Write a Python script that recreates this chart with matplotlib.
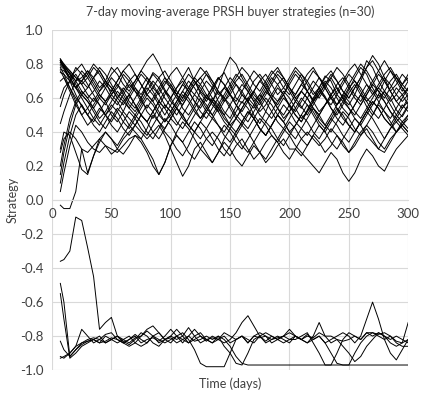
#!/usr/bin/env python3

import matplotlib
matplotlib.use('Agg')
import matplotlib.pyplot as plt

plt.rcParams['font.family'] = ['Lato', 'DejaVu Sans']

# day 7 is the first day with a full 7-day window, then every 5 days
days = [7] + list(range(10, 301, 5))

# buyers that settled on positive strategies
upper = [
    [0.83, 0.80, 0.76, 0.72, 0.70, 0.66, 0.72, 0.76, 0.70, 0.62,
     0.66, 0.74, 0.70, 0.64, 0.60, 0.68, 0.75, 0.72, 0.65, 0.60,
     0.66, 0.72, 0.78, 0.70, 0.63, 0.58, 0.64, 0.71, 0.75, 0.68,
     0.60, 0.57, 0.63, 0.70, 0.74, 0.69, 0.62, 0.58, 0.62, 0.70,
     0.76, 0.72, 0.64, 0.59, 0.66, 0.73, 0.70, 0.62, 0.58, 0.65,
     0.72, 0.78, 0.74, 0.66, 0.60, 0.64, 0.70, 0.74, 0.68, 0.72],
    [0.82, 0.78, 0.70, 0.62, 0.55, 0.50, 0.56, 0.62, 0.58, 0.50,
     0.46, 0.52, 0.60, 0.66, 0.60, 0.52, 0.48, 0.55, 0.62, 0.68,
     0.62, 0.54, 0.50, 0.56, 0.64, 0.70, 0.66, 0.58, 0.52, 0.48,
     0.55, 0.62, 0.58, 0.50, 0.45, 0.52, 0.60, 0.66, 0.62, 0.55,
     0.50, 0.46, 0.53, 0.60, 0.66, 0.61, 0.54, 0.50, 0.56, 0.63,
     0.68, 0.62, 0.55, 0.50, 0.57, 0.64, 0.60, 0.53, 0.49, 0.55],
    [0.81, 0.79, 0.74, 0.70, 0.72, 0.76, 0.70, 0.64, 0.68, 0.74,
     0.78, 0.72, 0.66, 0.70, 0.76, 0.82, 0.86, 0.80, 0.72, 0.66,
     0.62, 0.68, 0.74, 0.70, 0.64, 0.60, 0.66, 0.72, 0.68, 0.62,
     0.58, 0.64, 0.70, 0.76, 0.72, 0.66, 0.60, 0.56, 0.62, 0.68,
     0.74, 0.70, 0.64, 0.58, 0.62, 0.68, 0.74, 0.70, 0.64, 0.60,
     0.66, 0.72, 0.82, 0.78, 0.70, 0.64, 0.58, 0.62, 0.68, 0.64],
    [0.80, 0.78, 0.75, 0.70, 0.64, 0.60, 0.64, 0.70, 0.66, 0.60,
     0.56, 0.62, 0.68, 0.64, 0.58, 0.54, 0.60, 0.66, 0.72, 0.68,
     0.62, 0.58, 0.64, 0.70, 0.66, 0.60, 0.58, 0.66, 0.76, 0.84,
     0.80, 0.72, 0.66, 0.60, 0.56, 0.62, 0.68, 0.74, 0.70, 0.64,
     0.58, 0.54, 0.60, 0.66, 0.72, 0.68, 0.62, 0.56, 0.60, 0.66,
     0.70, 0.66, 0.60, 0.56, 0.62, 0.70, 0.76, 0.72, 0.66, 0.62],
    [0.79, 0.77, 0.72, 0.66, 0.62, 0.58, 0.54, 0.60, 0.66, 0.72,
     0.68, 0.62, 0.56, 0.52, 0.58, 0.64, 0.70, 0.66, 0.60, 0.55,
     0.50, 0.56, 0.62, 0.68, 0.72, 0.66, 0.60, 0.54, 0.50, 0.56,
     0.62, 0.68, 0.64, 0.58, 0.52, 0.56, 0.62, 0.68, 0.72, 0.66,
     0.60, 0.55, 0.50, 0.56, 0.62, 0.68, 0.72, 0.66, 0.60, 0.56,
     0.62, 0.70, 0.78, 0.85, 0.80, 0.72, 0.64, 0.58, 0.62, 0.66],
    [0.78, 0.74, 0.66, 0.58, 0.50, 0.44, 0.48, 0.54, 0.50, 0.44,
     0.40, 0.46, 0.52, 0.48, 0.42, 0.38, 0.44, 0.50, 0.56, 0.52,
     0.46, 0.42, 0.48, 0.54, 0.60, 0.56, 0.50, 0.44, 0.40, 0.46,
     0.52, 0.58, 0.54, 0.48, 0.42, 0.38, 0.44, 0.50, 0.56, 0.52,
     0.46, 0.42, 0.38, 0.44, 0.50, 0.56, 0.60, 0.54, 0.48, 0.44,
     0.40, 0.46, 0.52, 0.58, 0.54, 0.48, 0.44, 0.50, 0.56, 0.52],
    [0.77, 0.76, 0.72, 0.76, 0.80, 0.74, 0.68, 0.62, 0.58, 0.64,
     0.70, 0.76, 0.72, 0.66, 0.62, 0.68, 0.74, 0.70, 0.64, 0.58,
     0.54, 0.60, 0.66, 0.72, 0.68, 0.62, 0.56, 0.52, 0.58, 0.64,
     0.70, 0.74, 0.68, 0.62, 0.58, 0.64, 0.70, 0.76, 0.72, 0.66,
     0.62, 0.68, 0.74, 0.78, 0.72, 0.66, 0.60, 0.56, 0.62, 0.68,
     0.74, 0.80, 0.76, 0.70, 0.64, 0.60, 0.66, 0.72, 0.68, 0.74],
    [0.76, 0.72, 0.64, 0.56, 0.50, 0.54, 0.60, 0.56, 0.50, 0.46,
     0.52, 0.58, 0.62, 0.56, 0.50, 0.46, 0.52, 0.58, 0.54, 0.48,
     0.44, 0.50, 0.56, 0.62, 0.58, 0.52, 0.48, 0.54, 0.60, 0.56,
     0.50, 0.46, 0.42, 0.48, 0.54, 0.60, 0.56, 0.50, 0.46, 0.52,
     0.58, 0.64, 0.60, 0.54, 0.48, 0.44, 0.50, 0.56, 0.62, 0.58,
     0.52, 0.48, 0.54, 0.60, 0.66, 0.62, 0.56, 0.50, 0.46, 0.50],
    [0.75, 0.74, 0.70, 0.66, 0.70, 0.76, 0.72, 0.66, 0.70, 0.78,
     0.74, 0.68, 0.64, 0.70, 0.76, 0.72, 0.66, 0.62, 0.68, 0.74,
     0.78, 0.72, 0.66, 0.62, 0.68, 0.74, 0.70, 0.64, 0.60, 0.66,
     0.72, 0.78, 0.74, 0.68, 0.64, 0.70, 0.76, 0.72, 0.66, 0.62,
     0.68, 0.74, 0.70, 0.64, 0.60, 0.66, 0.72, 0.78, 0.74, 0.68,
     0.62, 0.58, 0.64, 0.70, 0.76, 0.82, 0.76, 0.70, 0.64, 0.70],
    [0.70, 0.72, 0.66, 0.60, 0.56, 0.50, 0.46, 0.52, 0.58, 0.62,
     0.58, 0.52, 0.48, 0.44, 0.50, 0.56, 0.52, 0.46, 0.42, 0.48,
     0.54, 0.50, 0.44, 0.40, 0.46, 0.52, 0.58, 0.54, 0.48, 0.44,
     0.40, 0.46, 0.52, 0.48, 0.42, 0.38, 0.44, 0.50, 0.46, 0.40,
     0.44, 0.50, 0.56, 0.52, 0.46, 0.42, 0.48, 0.54, 0.50, 0.44,
     0.40, 0.46, 0.52, 0.58, 0.54, 0.48, 0.44, 0.40, 0.46, 0.42],
    [0.60, 0.66, 0.70, 0.74, 0.68, 0.62, 0.58, 0.64, 0.70, 0.66,
     0.60, 0.56, 0.62, 0.68, 0.74, 0.70, 0.64, 0.58, 0.54, 0.60,
     0.66, 0.70, 0.64, 0.58, 0.54, 0.60, 0.66, 0.72, 0.68, 0.62,
     0.56, 0.52, 0.58, 0.64, 0.70, 0.66, 0.60, 0.54, 0.50, 0.56,
     0.62, 0.68, 0.64, 0.58, 0.52, 0.56, 0.62, 0.68, 0.72, 0.66,
     0.60, 0.56, 0.62, 0.68, 0.74, 0.70, 0.64, 0.58, 0.54, 0.60],
    [0.45, 0.52, 0.62, 0.70, 0.76, 0.72, 0.66, 0.60, 0.56, 0.62,
     0.68, 0.64, 0.58, 0.54, 0.60, 0.66, 0.62, 0.56, 0.50, 0.56,
     0.62, 0.68, 0.64, 0.58, 0.52, 0.48, 0.54, 0.60, 0.66, 0.62,
     0.56, 0.50, 0.46, 0.52, 0.58, 0.64, 0.60, 0.54, 0.48, 0.52,
     0.58, 0.64, 0.60, 0.54, 0.50, 0.56, 0.62, 0.66, 0.60, 0.54,
     0.50, 0.56, 0.62, 0.68, 0.64, 0.58, 0.52, 0.48, 0.54, 0.58],
    [0.20, 0.32, 0.48, 0.58, 0.64, 0.60, 0.54, 0.48, 0.52, 0.58,
     0.64, 0.60, 0.54, 0.50, 0.56, 0.62, 0.58, 0.52, 0.46, 0.50,
     0.56, 0.62, 0.58, 0.52, 0.48, 0.54, 0.60, 0.56, 0.50, 0.44,
     0.48, 0.54, 0.60, 0.64, 0.58, 0.52, 0.48, 0.54, 0.60, 0.56,
     0.50, 0.46, 0.52, 0.58, 0.64, 0.60, 0.54, 0.48, 0.44, 0.50,
     0.56, 0.62, 0.58, 0.52, 0.48, 0.54, 0.60, 0.66, 0.62, 0.56],
    [0.10, 0.22, 0.38, 0.50, 0.56, 0.50, 0.44, 0.40, 0.46, 0.52,
     0.48, 0.42, 0.38, 0.44, 0.50, 0.46, 0.40, 0.36, 0.42, 0.48,
     0.54, 0.50, 0.44, 0.40, 0.36, 0.42, 0.48, 0.44, 0.38, 0.34,
     0.40, 0.46, 0.52, 0.48, 0.42, 0.38, 0.44, 0.50, 0.46, 0.40,
     0.36, 0.42, 0.48, 0.54, 0.50, 0.44, 0.40, 0.46, 0.52, 0.48,
     0.42, 0.38, 0.44, 0.50, 0.56, 0.52, 0.46, 0.40, 0.44, 0.48],
    [0.05, 0.16, 0.32, 0.44, 0.40, 0.34, 0.30, 0.28, 0.32, 0.30,
     0.28, 0.32, 0.36, 0.38, 0.34, 0.28, 0.20, 0.15, 0.22, 0.32,
     0.38, 0.34, 0.28, 0.24, 0.30, 0.36, 0.40, 0.36, 0.30, 0.26,
     0.32, 0.36, 0.30, 0.24, 0.28, 0.34, 0.38, 0.34, 0.28, 0.24,
     0.30, 0.36, 0.40, 0.36, 0.32, 0.36, 0.42, 0.38, 0.32, 0.28,
     0.34, 0.40, 0.44, 0.40, 0.34, 0.30, 0.36, 0.40, 0.44, 0.40],
    [-0.03, -0.05, -0.05, 0.05, 0.30, 0.16, 0.26, 0.36, 0.32, 0.27,
     0.30, 0.36, 0.40, 0.44, 0.40, 0.36, 0.40, 0.44, 0.38, 0.30,
     0.22, 0.14, 0.20, 0.30, 0.34, 0.28, 0.22, 0.28, 0.34, 0.30,
     0.24, 0.20, 0.26, 0.32, 0.28, 0.22, 0.26, 0.32, 0.36, 0.30,
     0.30, 0.26, 0.32, 0.38, 0.34, 0.28, 0.32, 0.38, 0.34, 0.28,
     0.32, 0.38, 0.42, 0.36, 0.30, 0.28, 0.34, 0.40, 0.44, 0.40],
    [0.28, 0.36, 0.40, 0.36, 0.30, 0.28, 0.32, 0.36, 0.40, 0.36,
     0.30, 0.27, 0.32, 0.38, 0.36, 0.42, 0.50, 0.46, 0.40, 0.36,
     0.30, 0.26, 0.32, 0.40, 0.46, 0.42, 0.36, 0.30, 0.26, 0.32,
     0.38, 0.44, 0.40, 0.34, 0.28, 0.24, 0.30, 0.36, 0.42, 0.38,
     0.32, 0.28, 0.24, 0.20, 0.16, 0.22, 0.28, 0.24, 0.16, 0.11,
     0.16, 0.24, 0.30, 0.26, 0.20, 0.17, 0.24, 0.30, 0.34, 0.38],
    [0.82, 0.80, 0.74, 0.68, 0.62, 0.66, 0.72, 0.78, 0.74, 0.68,
     0.62, 0.58, 0.54, 0.60, 0.66, 0.72, 0.68, 0.62, 0.56, 0.52,
     0.58, 0.64, 0.70, 0.66, 0.60, 0.54, 0.50, 0.56, 0.62, 0.68,
     0.74, 0.70, 0.64, 0.58, 0.62, 0.68, 0.74, 0.78, 0.72, 0.66,
     0.60, 0.64, 0.70, 0.76, 0.72, 0.66, 0.60, 0.64, 0.70, 0.76,
     0.80, 0.74, 0.68, 0.62, 0.66, 0.72, 0.68, 0.62, 0.58, 0.62],
    [0.81, 0.78, 0.72, 0.66, 0.60, 0.54, 0.48, 0.44, 0.50, 0.56,
     0.52, 0.46, 0.42, 0.48, 0.54, 0.60, 0.56, 0.50, 0.46, 0.52,
     0.58, 0.64, 0.60, 0.54, 0.48, 0.52, 0.58, 0.64, 0.60, 0.54,
     0.48, 0.44, 0.50, 0.56, 0.62, 0.58, 0.52, 0.46, 0.42, 0.48,
     0.54, 0.60, 0.56, 0.50, 0.44, 0.40, 0.46, 0.52, 0.58, 0.54,
     0.48, 0.44, 0.50, 0.56, 0.62, 0.58, 0.52, 0.46, 0.50, 0.56],
    [0.83, 0.79, 0.76, 0.72, 0.68, 0.72, 0.78, 0.74, 0.68, 0.64,
     0.70, 0.76, 0.80, 0.74, 0.68, 0.62, 0.66, 0.72, 0.76, 0.70,
     0.64, 0.60, 0.66, 0.72, 0.78, 0.74, 0.68, 0.62, 0.66, 0.72,
     0.68, 0.62, 0.58, 0.64, 0.70, 0.74, 0.68, 0.62, 0.66, 0.72,
     0.78, 0.74, 0.68, 0.62, 0.66, 0.72, 0.76, 0.70, 0.64, 0.60,
     0.66, 0.72, 0.78, 0.82, 0.76, 0.70, 0.64, 0.68, 0.74, 0.70],
    [0.30, 0.40, 0.38, 0.28, 0.18, 0.15, 0.26, 0.34, 0.40, 0.36,
     0.32, 0.38, 0.44, 0.50, 0.46, 0.40, 0.36, 0.42, 0.48, 0.44,
     0.38, 0.34, 0.40, 0.46, 0.42, 0.36, 0.32, 0.38, 0.44, 0.40,
     0.34, 0.30, 0.36, 0.42, 0.48, 0.44, 0.38, 0.34, 0.40, 0.46,
     0.42, 0.36, 0.32, 0.38, 0.44, 0.40, 0.34, 0.30, 0.36, 0.42,
     0.48, 0.44, 0.38, 0.34, 0.30, 0.36, 0.42, 0.46, 0.42, 0.38],
    [0.55, 0.62, 0.70, 0.78, 0.74, 0.68, 0.62, 0.56, 0.50, 0.54,
     0.60, 0.66, 0.62, 0.56, 0.50, 0.46, 0.52, 0.58, 0.64, 0.60,
     0.54, 0.48, 0.44, 0.50, 0.56, 0.62, 0.58, 0.52, 0.46, 0.42,
     0.48, 0.54, 0.60, 0.56, 0.50, 0.46, 0.52, 0.58, 0.64, 0.60,
     0.54, 0.48, 0.52, 0.58, 0.64, 0.70, 0.66, 0.60, 0.54, 0.50,
     0.56, 0.62, 0.68, 0.64, 0.58, 0.52, 0.48, 0.54, 0.60, 0.66],
    [0.15, 0.28, 0.44, 0.56, 0.62, 0.58, 0.52, 0.46, 0.42, 0.48,
     0.54, 0.50, 0.44, 0.40, 0.36, 0.30, 0.24, 0.15, 0.22, 0.32,
     0.40, 0.46, 0.42, 0.36, 0.30, 0.26, 0.22, 0.28, 0.36, 0.42,
     0.38, 0.32, 0.28, 0.34, 0.40, 0.46, 0.42, 0.36, 0.32, 0.38,
     0.44, 0.50, 0.46, 0.40, 0.36, 0.42, 0.48, 0.44, 0.38, 0.34,
     0.40, 0.46, 0.52, 0.48, 0.42, 0.36, 0.42, 0.48, 0.44, 0.50],
    [0.82, 0.78, 0.72, 0.66, 0.70, 0.74, 0.80, 0.76, 0.70, 0.66,
     0.60, 0.64, 0.70, 0.74, 0.68, 0.62, 0.58, 0.64, 0.70, 0.66,
     0.60, 0.56, 0.62, 0.68, 0.72, 0.76, 0.70, 0.64, 0.58, 0.62,
     0.68, 0.64, 0.58, 0.54, 0.60, 0.66, 0.72, 0.68, 0.62, 0.56,
     0.52, 0.58, 0.64, 0.70, 0.66, 0.60, 0.56, 0.62, 0.68, 0.74,
     0.70, 0.64, 0.58, 0.62, 0.68, 0.74, 0.78, 0.72, 0.66, 0.60],
]

# buyers that went to the negative side
lower = [
    [-0.36, -0.35, -0.30, -0.10, -0.12, -0.28, -0.45, -0.76, -0.72, -0.69,
     -0.80, -0.84, -0.82, -0.80, -0.84, -0.82, -0.81, -0.83, -0.80, -0.76,
     -0.80, -0.84, -0.80, -0.76, -0.80, -0.83, -0.80, -0.82, -0.78, -0.80,
     -0.82, -0.80, -0.84, -0.80, -0.81, -0.80, -0.82, -0.81, -0.80, -0.78,
     -0.80, -0.82, -0.80, -0.81, -0.78, -0.80, -0.80, -0.82, -0.83, -0.82,
     -0.80, -0.82, -0.78, -0.78, -0.79, -0.78, -0.80, -0.83, -0.84, -0.72],
    [-0.49, -0.60, -0.92, -0.88, -0.85, -0.83, -0.82, -0.80, -0.84, -0.82,
     -0.80, -0.83, -0.85, -0.82, -0.78, -0.80, -0.84, -0.86, -0.82, -0.80,
     -0.76, -0.80, -0.84, -0.82, -0.80, -0.82, -0.84, -0.80, -0.86, -0.90,
     -0.96, -0.97, -0.90, -0.82, -0.80, -0.83, -0.80, -0.82, -0.84, -0.82,
     -0.80, -0.82, -0.79, -0.82, -0.80, -0.84, -0.90, -0.96, -0.97, -0.97,
     -0.90, -0.84, -0.80, -0.78, -0.80, -0.82, -0.80, -0.84, -0.86, -0.86],
    [-0.55, -0.70, -0.93, -0.90, -0.86, -0.84, -0.82, -0.84, -0.83, -0.81,
     -0.82, -0.84, -0.82, -0.79, -0.82, -0.84, -0.80, -0.78, -0.82, -0.81,
     -0.84, -0.82, -0.80, -0.83, -0.82, -0.80, -0.82, -0.80, -0.82, -0.86,
     -0.92, -0.96, -0.97, -0.97, -0.97, -0.97, -0.97, -0.97, -0.97, -0.97,
     -0.97, -0.97, -0.97, -0.97, -0.97, -0.97, -0.97, -0.97, -0.97, -0.97,
     -0.97, -0.97, -0.97, -0.97, -0.97, -0.97, -0.97, -0.97, -0.97, -0.97],
    [-0.83, -0.88, -0.92, -0.88, -0.84, -0.82, -0.81, -0.82, -0.84, -0.82,
     -0.80, -0.82, -0.84, -0.81, -0.80, -0.77, -0.80, -0.84, -0.82, -0.80,
     -0.82, -0.80, -0.75, -0.80, -0.84, -0.82, -0.81, -0.82, -0.84, -0.82,
     -0.78, -0.72, -0.68, -0.74, -0.80, -0.84, -0.82, -0.80, -0.82, -0.84,
     -0.80, -0.82, -0.84, -0.82, -0.80, -0.84, -0.82, -0.80, -0.78, -0.80,
     -0.84, -0.80, -0.70, -0.60, -0.70, -0.82, -0.90, -0.94, -0.88, -0.82],
    [-0.92, -0.93, -0.90, -0.86, -0.76, -0.80, -0.84, -0.82, -0.79, -0.78,
     -0.82, -0.84, -0.86, -0.84, -0.80, -0.76, -0.74, -0.78, -0.82, -0.84,
     -0.80, -0.78, -0.82, -0.88, -0.96, -0.98, -0.98, -0.98, -0.98, -0.90,
     -0.82, -0.80, -0.84, -0.80, -0.78, -0.80, -0.84, -0.82, -0.80, -0.82,
     -0.82, -0.80, -0.78, -0.84, -0.90, -0.97, -0.97, -0.90, -0.82, -0.78,
     -0.80, -0.82, -0.78, -0.80, -0.78, -0.80, -0.82, -0.80, -0.82, -0.84],
    [-0.93, -0.92, -0.90, -0.86, -0.84, -0.83, -0.82, -0.84, -0.80, -0.82,
     -0.84, -0.82, -0.80, -0.84, -0.86, -0.84, -0.80, -0.82, -0.84, -0.82,
     -0.80, -0.82, -0.84, -0.80, -0.78, -0.82, -0.84, -0.82, -0.80, -0.84,
     -0.82, -0.80, -0.82, -0.84, -0.80, -0.78, -0.80, -0.82, -0.80, -0.76,
     -0.80, -0.82, -0.84, -0.80, -0.72, -0.80, -0.84, -0.82, -0.86, -0.90,
     -0.95, -0.92, -0.86, -0.82, -0.78, -0.80, -0.84, -0.86, -0.84, -0.82],
]

x_ticks = [0, 50, 100, 150, 200, 250, 300]
y_ticks = [-1.0, -0.8, -0.6, -0.4, -0.2, 0.0, 0.2, 0.4, 0.6, 0.8, 1.0]

fig = plt.figure(figsize=(4.23, 3.95), dpi=100)
ax = fig.add_axes([0.123, 0.063, 0.842, 0.861])

for s in upper + lower:
    ax.plot(days, s, color='black', linewidth=0.7)

ax.set_xlim(0, 300)
ax.set_ylim(-1.0, 1.0)
ax.set_xticks(x_ticks)
ax.set_yticks(y_ticks)
ax.set_yticklabels([f'{v:.1f}' for v in y_ticks])
ax.grid(True, color='#d9d9d9', linewidth=0.8)
ax.set_axisbelow(True)

for side in ['top', 'right', 'left']:
    ax.spines[side].set_visible(False)
ax.spines['bottom'].set_position(('data', 0))
ax.spines['bottom'].set_color('#d9d9d9')
ax.tick_params(length=0, labelsize=9.5, colors='#404040')
ax.tick_params(axis='x', pad=6)
ax.tick_params(axis='y', pad=6)

ax.set_title('7-day moving-average PRSH buyer strategies (n=30)',
             fontsize=9, color='#404040', pad=10)
ax.set_ylabel('Strategy', fontsize=9, color='#404040', labelpad=2)
ax.yaxis.set_label_coords(-0.095, 0.5)
ax.text(0.5, -0.04, 'Time (days)', transform=ax.transAxes, ha='center',
        va='center', fontsize=9, color='#404040')

plt.savefig('out.png')
